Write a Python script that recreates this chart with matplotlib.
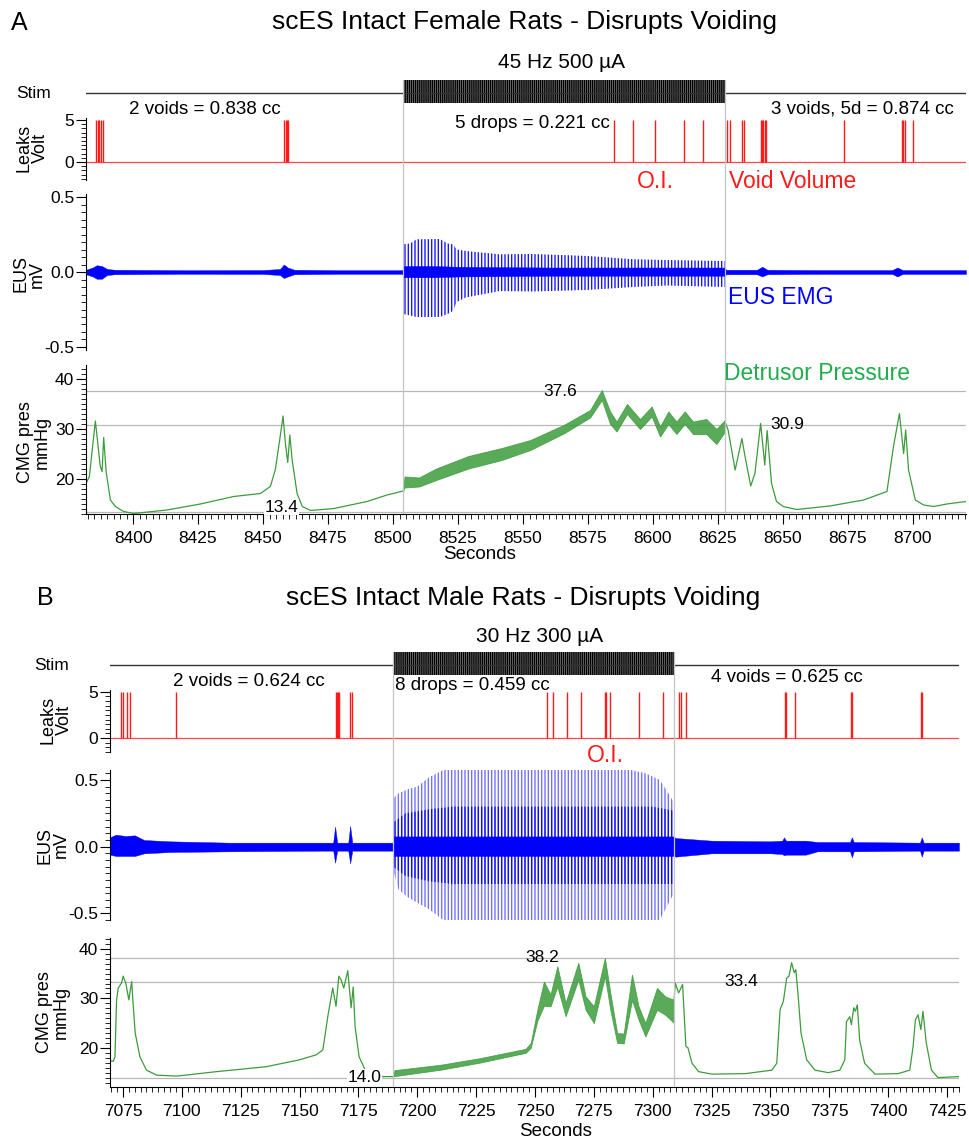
import numpy as np
import matplotlib
matplotlib.use("Agg")
from matplotlib import pyplot as plt
from matplotlib.ticker import MultipleLocator, FixedLocator

# ---------------- data ----------------
# Panel A  (female, 45 Hz 500 uA)
stim_a = (8503.9, 8627.7)
xlim_a = (8381.9, 8720.4)
leak_a_t = [8385.8, 8386.4, 8387.0, 8387.6, 8388.3, 8458.2, 8458.7, 8459.2, 8459.7,
            8585.0, 8592.4, 8600.8, 8612.0, 8619.3, 8628.5, 8629.7, 8634.3, 8635.1,
            8641.6, 8642.0, 8642.5, 8643.0, 8643.5, 8673.5, 8695.8, 8696.3, 8697.0, 8700.0]

eus_a_t = [8381.9, 8384.5, 8386, 8388, 8390, 8393, 8420, 8450, 8456.5, 8458, 8459.5, 8462,
           8480, 8503.5, 8504.2, 8515, 8525, 8560, 8600, 8627.5, 8628.2, 8640, 8642, 8644,
           8660, 8692, 8694, 8696, 8720.4]
eus_a_hi = [0.015, 0.03, 0.045, 0.04, 0.02, 0.015, 0.012, 0.013, 0.02, 0.05, 0.03, 0.015,
            0.012, 0.012, 0.04, 0.04, 0.035, 0.03, 0.03, 0.03, 0.015, 0.015, 0.035, 0.015,
            0.013, 0.013, 0.03, 0.013, 0.013]
eus_a_lo = [-0.015, -0.03, -0.045, -0.045, -0.02, -0.015, -0.012, -0.013, -0.02, -0.04, -0.03,
            -0.015, -0.012, -0.012, -0.035, -0.035, -0.03, -0.025, -0.025, -0.025, -0.015,
            -0.015, -0.03, -0.015, -0.013, -0.013, -0.03, -0.013, -0.013]
spk_a_t = [8503.9, 8506.6, 8509, 8518, 8521, 8523, 8524.5, 8528, 8541, 8554, 8574.5,
           8592.5, 8605.3, 8627.6]
spk_a_hi = [0.185, 0.19, 0.218, 0.22, 0.19, 0.185, 0.15, 0.14, 0.118, 0.12, 0.107, 0.085,
            0.08, 0.073]
spk_a_lo = [-0.28, -0.29, -0.30, -0.30, -0.28, -0.26, -0.2, -0.17, -0.127, -0.13, -0.12,
            -0.10, -0.09, -0.1]

cmg_a_pre_t = [8381.9, 8383.2, 8385.5, 8387.4, 8388.1, 8388.7, 8389.7, 8391.3, 8393.2,
               8396.4, 8400.3, 8413, 8425.9, 8438.7, 8449, 8452.8, 8454.7, 8456.4, 8457.7,
               8458.6, 8459.5, 8460.3, 8461.2, 8463.1, 8465.1, 8468.3, 8477.3, 8490,
               8497.7, 8503.9]
cmg_a_pre_v = [19.1, 20.5, 31.6, 22.5, 21.5, 28.3, 21.2, 15.8, 14.5, 13.5, 13.1, 13.8, 15.0,
               16.5, 17.1, 18.5, 21.8, 27.8, 32.6, 27.1, 23.3, 28.8, 23.8, 17.1, 14.5, 13.7,
               14.1, 15.5, 16.8, 17.6]
cmg_a_stim_t = [8503.9, 8504.4, 8510, 8516.6, 8529, 8541.8, 8552.8, 8565.6, 8575.8, 8580.3,
                8583.5, 8586, 8590, 8595, 8599.5, 8602.7, 8605.9, 8609, 8612.2, 8615.4,
                8620.5, 8624.4, 8627.7]
cmg_a_stim_hi = [17.6, 20.5, 20.3, 22.1, 24.6, 26.2, 27.8, 30.8, 33.8, 37.8, 33.5, 31.5,
                 35.0, 32.0, 34.5, 30.5, 33.5, 31.5, 33.5, 31.5, 32.0, 30.0, 31.8]
cmg_a_stim_lo = [17.6, 18.3, 18.5, 19.8, 22.1, 23.8, 25.8, 29.1, 32.3, 35.8, 31.0, 29.5,
                 33.0, 30.0, 32.5, 28.5, 31.0, 29.0, 31.0, 29.0, 29.0, 27.0, 29.5]
cmg_a_post_t = [8627.7, 8628.9, 8631.6, 8634.2, 8635.4, 8637.6, 8639.2, 8641.4, 8643, 8643.9,
                8645.6, 8647.5, 8650.1, 8655.3, 8668, 8681, 8690, 8692.5, 8694.8, 8696.4,
                8697.2, 8698.3, 8700.9, 8704.1, 8708, 8713, 8720.4]
cmg_a_post_v = [31.5, 29.8, 21.8, 28.1, 24.5, 18.6, 21.1, 31.1, 22.8, 29.7, 19.1, 15.5,
                14.5, 13.9, 14.6, 15.8, 17.5, 26.5, 33.1, 25.1, 29.8, 21.8, 15.8, 14.8,
                14.5, 15.0, 15.5]
marks_a = [37.6, 30.9, 13.4]

# Panel B  (male, 30 Hz 300 uA)
stim_b = (7189.7, 7309.1)
xlim_b = (7069.5, 7430.1)
leak_b_t = [7074.2, 7074.9, 7076.8, 7078.0, 7097.7, 7165.5, 7166.0, 7166.5, 7166.9, 7171.5,
            7172.4, 7255.1, 7257.6, 7263.4, 7269.5, 7279.7, 7280.3, 7281.8, 7294.1, 7304.3,
            7311.2, 7312.0, 7314.0, 7356.0, 7356.8, 7360.6, 7384.3, 7384.7, 7414.0, 7414.4]

eus_b_t = [7069.5, 7072, 7076, 7080, 7084, 7095, 7120, 7160, 7164.3, 7165.1, 7166, 7170.7,
           7171.5, 7172.4, 7180, 7189.5, 7190, 7200, 7250, 7300, 7309, 7309.6, 7325, 7350,
           7355, 7355.8, 7356.6, 7365, 7370, 7383.8, 7384.6, 7385.4, 7413.5, 7414.3,
           7415.1, 7430.1]
eus_b_hi = [0.07, 0.09, 0.08, 0.085, 0.05, 0.04, 0.03, 0.03, 0.03, 0.15, 0.03, 0.03, 0.155,
            0.03, 0.03, 0.03, 0.077, 0.077, 0.077, 0.077, 0.077, 0.065, 0.045, 0.04, 0.045,
            0.07, 0.045, 0.045, 0.035, 0.035, 0.07, 0.035, 0.03, 0.07, 0.03, 0.03]
eus_b_lo = [-0.06, -0.07, -0.07, -0.07, -0.05, -0.04, -0.035, -0.03, -0.03, -0.12, -0.03,
            -0.03, -0.125, -0.03, -0.03, -0.03, -0.07, -0.07, -0.07, -0.07, -0.07, -0.075,
            -0.05, -0.05, -0.055, -0.065, -0.06, -0.06, -0.035, -0.035, -0.08, -0.035,
            -0.03, -0.075, -0.03, -0.03]
spk_b_t = [7189.7, 7192, 7196, 7200, 7205, 7211, 7250, 7291, 7297, 7303, 7306, 7309]
spk_b_hi = [0.36, 0.40, 0.43, 0.45, 0.52, 0.575, 0.575, 0.575, 0.55, 0.5, 0.42, 0.33]
spk_b_lo = [-0.17, -0.32, -0.38, -0.42, -0.47, -0.55, -0.55, -0.55, -0.55, -0.55, -0.45, -0.35]
mid_b_t = [7189.7, 7195, 7205, 7215, 7300, 7309]
mid_b_hi = [0.18, 0.25, 0.28, 0.3, 0.3, 0.27]
mid_b_lo = [-0.15, -0.22, -0.26, -0.28, -0.28, -0.28]

cmg_b_pre_t = [7069.5, 7070.9, 7071.6, 7072.3, 7073, 7074.4, 7075.1, 7076.2, 7077.5, 7078.7,
               7079.4, 7080.2, 7082.2, 7085, 7089.3, 7097.8, 7114.7, 7135.9, 7150, 7157.1,
               7159.9, 7162, 7164.1, 7165.5, 7166.7, 7167.6, 7168.8, 7170.5, 7171.9, 7172.8,
               7173.6, 7175.3, 7178.2, 7182.3, 7189.7]
cmg_b_pre_v = [17.4, 17.3, 18.2, 29.7, 32.1, 33.1, 34.5, 33.1, 29.7, 33.4, 28.4, 23.0, 18.2,
               15.5, 14.5, 14.3, 15.2, 16.2, 17.6, 18.6, 19.6, 26.3, 32.1, 28.4, 34.5, 33.8,
               32.1, 35.6, 28.1, 32.3, 24.3, 18.2, 15.2, 14.2, 14.2]
cmg_b_stim_t = [7189.7, 7190.3, 7210, 7226.3, 7246, 7248.2, 7251, 7253.8, 7256.6, 7259.5,
                7263, 7268.4, 7271.5, 7275, 7279.7, 7282, 7284.9, 7287.7, 7291.2, 7294,
                7296.9, 7301.8, 7305.3, 7309.1]
cmg_b_stim_hi = [14.2, 15.5, 16.6, 17.9, 19.8, 21.0, 27.7, 33.4, 30.8, 36.5, 29.1, 37.2,
                 30.4, 28.4, 38.2, 31.1, 23.0, 22.9, 34.8, 28.4, 25.0, 32.1, 30.4, 29.7]
cmg_b_stim_lo = [14.2, 14.3, 15.6, 17.0, 19.0, 20.0, 25.5, 28.5, 28.4, 32.4, 26.4, 33.8,
                 27.7, 25.0, 34.5, 27.7, 21.0, 20.9, 29.7, 25.7, 22.3, 27.7, 26.7, 25.0]
cmg_b_post_t = [7309.1, 7309.6, 7311, 7312.7, 7314.1, 7315, 7316.7, 7319.5, 7325.2, 7339.3,
                7350.6, 7352.7, 7354.1, 7355.5, 7356.9, 7357.9, 7359, 7360.1, 7360.8,
                7361.8, 7363, 7365.4, 7368.9, 7374.6, 7379.5, 7381.6, 7382.3, 7383.7,
                7384.4, 7385.4, 7386.1, 7386.9, 7387.9, 7390, 7394.4, 7404.2, 7409.2,
                7410.6, 7411.6, 7412.7, 7413.9, 7414.8, 7416.2, 7418.4, 7421.2, 7430.1]
cmg_b_post_v = [29.7, 33.1, 31.1, 32.8, 20.3, 20.0, 16.9, 15.2, 14.7, 14.8, 15.5, 16.9,
                27.7, 29.4, 34.1, 34.5, 37.2, 35.2, 35.8, 30.4, 23.0, 17.6, 15.5, 15.0,
                15.5, 17.6, 25.3, 26.3, 24.7, 28.1, 27.4, 28.7, 21.6, 16.9, 14.7, 14.8,
                15.5, 20.3, 25.7, 26.7, 23.7, 27.4, 21.0, 15.5, 14.0, 14.2]
marks_b = [38.2, 33.4, 14.0]

# ---------------- figure ----------------
W, H = 969, 1142
plt.rcParams["axes.unicode_minus"] = False
plt.rcParams["hatch.linewidth"] = 1.0
SANS = ["Liberation Sans", "DejaVu Sans"]
NARROW = ["Liberation Sans Narrow", "Liberation Sans", "DejaVu Sans"]
TICK_FS = 12.5

fig = plt.figure(figsize=(W / 100, H / 100), dpi=100)

RED = "#ff1a1a"
BLUE = "#0000ff"
GREEN = "#3c9c3c"


def rect(x0, y0, x1, y1):
    return [x0 / W, 1 - y1 / H, (x1 - x0) / W, (y1 - y0) / H]


def ftext(x, y, s, **kw):
    kw.setdefault("ha", "center")
    kw.setdefault("va", "center")
    kw.setdefault("family", SANS)
    fig.text(x / W, 1 - y / H, s, **kw)


def style_left(ax, minor):
    for s in ["top", "right", "bottom"]:
        ax.spines[s].set_visible(False)
    ax.spines["left"].set_linewidth(0.8)
    ax.yaxis.set_minor_locator(MultipleLocator(minor))
    ax.tick_params(axis="y", which="major", length=7, width=0.8, pad=1.5, labelsize=TICK_FS)
    ax.tick_params(axis="y", which="minor", length=3.5, width=0.6)
    ax.tick_params(axis="x", which="both", bottom=False, labelbottom=False)
    for lab in ax.get_yticklabels():
        lab.set_family(NARROW)


def panel(L):
    x0, x1 = L["x0"], L["x1"]
    xl = L["xlim"]
    s0, s1 = L["stim"]

    # stim row
    ax = fig.add_axes(rect(x0, L["stim_y"], x1, L["stim_y"] + 28))
    ax.set_xlim(xl)
    ax.set_ylim(0, 1)
    ax.axis("off")
    ax.plot(xl, [0.464, 0.464], color="#333333", lw=1.0)
    ax.fill_between([s0, s1], 0.107, 0.929, facecolor="#8a8a8a", edgecolor="black",
                    hatch="|" * 8, lw=0)

    # leaks
    ax = fig.add_axes(rect(x0, L["leak_y"][0], x1, L["leak_y"][1]))
    ax.set_xlim(xl)
    ax.set_ylim(L["leak_lim"])
    ax.axhline(0, color=RED, lw=0.9, alpha=0.8)
    ax.vlines(L["leak_t"], 0, 5, color=RED, lw=1.0)
    ax.set_yticks([0, 5])
    style_left(ax, 0.5)

    # EUS EMG
    ax = fig.add_axes(rect(x0, L["eus_y"][0], x1, L["eus_y"][1]))
    ax.set_xlim(xl)
    ax.set_ylim(L["eus_lim"])
    for t, hi, lo, alpha in L["spikes"]:
        ax.fill_between(t, lo, hi, facecolor="none", edgecolor=(0, 0, 1, alpha),
                        hatch="|" * 5, lw=0)
    ax.fill_between(L["eus_t"], L["eus_lo"], L["eus_hi"], color=BLUE, lw=0.3)
    ax.set_yticks([-0.5, 0.0, 0.5])
    ax.set_yticklabels(["-0.5", "0.0", "0.5"])
    style_left(ax, 0.05)

    # CMG pressure
    ax = fig.add_axes(rect(x0, L["cmg_y"][0], x1, L["cmg_y"][1]))
    ax.set_xlim(xl)
    ax.set_ylim(L["cmg_lim"])
    for m in L["marks"]:
        ax.axhline(m, color="#b8b8b8", lw=0.9, zorder=0)
    ax.plot(L["pre_t"], L["pre_v"], color=GREEN, lw=0.9)
    ax.fill_between(L["st_t"], L["st_lo"], L["st_hi"], color=GREEN, alpha=0.85, lw=0.6)
    ax.plot(L["post_t"], L["post_v"], color=GREEN, lw=0.9)
    for (tx, ty, s) in L["labels"]:
        ax.text(tx, ty, s, ha="center", va="center", fontsize=TICK_FS, family=NARROW,
                bbox=dict(facecolor="white", edgecolor="none", pad=0.5) if s in L["boxed"] else None)
    ax.set_yticks([20, 30, 40])
    style_left(ax, 1)
    ax.spines["bottom"].set_visible(True)
    ax.spines["bottom"].set_linewidth(0.8)
    ax.xaxis.set_major_locator(FixedLocator(L["xticks"]))
    ax.xaxis.set_minor_locator(MultipleLocator(2.5))
    ax.tick_params(axis="x", which="both", bottom=True, labelbottom=True)
    ax.tick_params(axis="x", which="major", length=7, width=0.8, pad=5, labelsize=TICK_FS)
    ax.tick_params(axis="x", which="minor", length=3.5, width=0.6)
    for lab in ax.get_xticklabels():
        lab.set_family(NARROW)

    # vertical markers at stimulation on/off
    ov = fig.add_axes(rect(x0, L["stim_y"] + 2, x1, L["cmg_y"][1]))
    ov.set_xlim(xl)
    ov.axis("off")
    for s in (s0, s1):
        ov.axvline(s, color="#c4c4c4", lw=0.9)


panel(dict(
    x0=86, x1=966, xlim=xlim_a, stim=stim_a, stim_y=78,
    leak_y=(118, 180), leak_lim=(-2.14, 5.24), leak_t=leak_a_t,
    eus_y=(194, 350), eus_lim=(-0.52, 0.52), eus_t=eus_a_t, eus_hi=eus_a_hi, eus_lo=eus_a_lo,
    spikes=[(spk_a_t, spk_a_hi, spk_a_lo, 0.9)],
    cmg_y=(365, 514), cmg_lim=(13.0, 42.8), marks=marks_a,
    pre_t=cmg_a_pre_t, pre_v=cmg_a_pre_v, st_t=cmg_a_stim_t, st_hi=cmg_a_stim_hi,
    st_lo=cmg_a_stim_lo, post_t=cmg_a_post_t, post_v=cmg_a_post_v,
    labels=[(8564.3, 37.6, "37.6"), (8651.6, 30.9, "30.9"), (8457.0, 14.4, "13.4")],
    boxed=["13.4"],
    xticks=list(range(8400, 8701, 25)),
))

panel(dict(
    x0=110, x1=959, xlim=xlim_b, stim=stim_b, stim_y=650,
    leak_y=(690, 752), leak_lim=(-1.52, 5.2), leak_t=leak_b_t,
    eus_y=(770, 920), eus_lim=(-0.55, 0.575), eus_t=eus_b_t, eus_hi=eus_b_hi, eus_lo=eus_b_lo,
    spikes=[(spk_b_t, spk_b_hi, spk_b_lo, 0.55), (mid_b_t, mid_b_hi, mid_b_lo, 0.9)],
    cmg_y=(938, 1087), cmg_lim=(12.1, 42.2), marks=marks_b,
    pre_t=cmg_b_pre_t, pre_v=cmg_b_pre_v, st_t=cmg_b_stim_t, st_hi=cmg_b_stim_hi,
    st_lo=cmg_b_stim_lo, post_t=cmg_b_post_t, post_v=cmg_b_post_v,
    labels=[(7253.0, 38.2, "38.2"), (7337.7, 33.4, "33.4"), (7177.5, 14.0, "14.0")],
    boxed=["14.0"],
    xticks=list(range(7075, 7426, 25)),
))

# ---------------- texts ----------------
ftext(19, 23, "A", fontsize=18)
ftext(525, 22, "scES Intact Female Rats - Disrupts Voiding", fontsize=19)
ftext(562, 63, "45 Hz 500 µA", fontsize=15)
ftext(34, 93, "Stim", fontsize=12.5, family=NARROW)
ftext(205, 110, "2 voids = 0.838 cc", fontsize=13.5)
ftext(532, 123, "5 drops = 0.221 cc", fontsize=13.5)
ftext(862, 109, "3 voids, 5d = 0.874 cc", fontsize=13.5)
ftext(655, 182, "O.I.", fontsize=16.5, color=RED)
ftext(793, 182, "Void Volume", fontsize=16.5, color=RED)
ftext(781, 297, "EUS EMG", fontsize=16.5, color=BLUE)
ftext(817, 374, "Detrusor Pressure", fontsize=16.5, color="#22ad4c")
ftext(32, 148, "Leaks\nVolt", fontsize=13, rotation=90, family=NARROW, linespacing=0.95)
ftext(29, 274, "EUS\nmV", fontsize=13, rotation=90, family=NARROW, linespacing=0.95)
ftext(34, 442, "CMG pres\nmmHg", fontsize=13, rotation=90, family=NARROW, linespacing=0.95)
ftext(480, 555, "Seconds", fontsize=13.5, family=NARROW)

ftext(45, 598, "B", fontsize=18)
ftext(523, 598, "scES Intact Male Rats - Disrupts Voiding", fontsize=19)
ftext(540, 636, "30 Hz 300 µA", fontsize=15)
ftext(52, 665, "Stim", fontsize=12.5, family=NARROW)
ftext(249, 682, "2 voids = 0.624 cc", fontsize=13.5)
ftext(472, 686, "8 drops = 0.459 cc", fontsize=13.5)
ftext(787, 678, "4 voids = 0.625 cc", fontsize=13.5)
ftext(605, 755, "O.I.", fontsize=16.5, color=RED)
ftext(56, 720, "Leaks\nVolt", fontsize=13, rotation=90, family=NARROW, linespacing=0.95)
ftext(53, 845, "EUS\nmV", fontsize=13, rotation=90, family=NARROW, linespacing=0.95)
ftext(53, 1012, "CMG pres\nmmHg", fontsize=13, rotation=90, family=NARROW, linespacing=0.95)
ftext(556, 1132, "Seconds", fontsize=13.5, family=NARROW)

fig.savefig("out.png", dpi=100)
